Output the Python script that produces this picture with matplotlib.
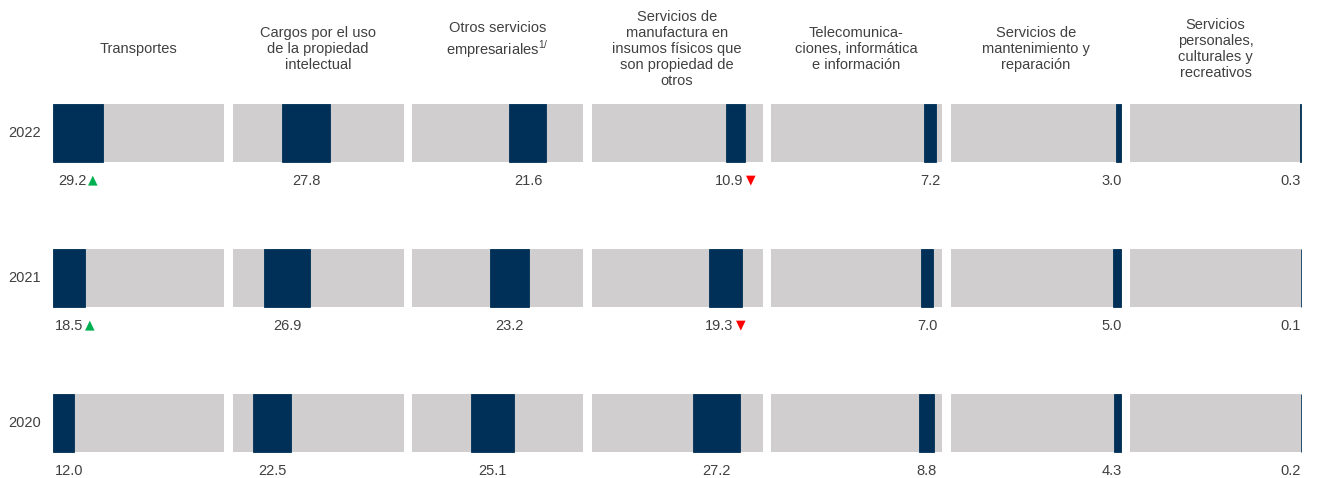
import matplotlib
matplotlib.use("Agg")
import matplotlib.pyplot as plt

plt.rcParams['font.family'] = ['Liberation Sans', 'DejaVu Sans']
plt.rcParams['mathtext.fontset'] = 'custom'
plt.rcParams['mathtext.rm'] = 'Liberation Sans'

# datos
categorias = [
    "Transportes",
    "Cargos por el uso\nde la propiedad\nintelectual",
    "Otros servicios\nempresariales$^{1/}$\n",
    "Servicios de\nmanufactura en\ninsumos físicos que\nson propiedad de\notros",
    "Telecomunica-\nciones, informática\ne información",
    "Servicios de\nmantenimiento y\nreparación",
    "Servicios\npersonales,\nculturales y\nrecreativos",
]
anios = ["2022", "2021", "2020"]
v2022 = [29.2, 27.8, 21.6, 10.9, 7.2, 3.0, 0.3]
v2021 = [18.5, 26.9, 23.2, 19.3, 7.0, 5.0, 0.1]
v2020 = [12.0, 22.5, 25.1, 27.2, 8.8, 4.3, 0.2]
# marcas de cambio de posicion
m2022 = ["sube", None, None, "baja", None, None, None]
m2021 = ["sube", None, None, "baja", None, None, None]
m2020 = [None] * 7

series = [v2022, v2021, v2020]
marcas = [m2022, m2021, m2020]

AZUL = "#003057"
GRIS = "#D0CECE"
TEXTO = "#404040"
simbolos = {"sube": ("\u25B2", "#00B050"), "baja": ("\u25BC", "#FF0000")}

W, H = 1320, 478
fig = plt.figure(figsize=(W / 100, H / 100), dpi=100)
renderer = fig.canvas.get_renderer()


def fx(px):
    return px / W


def fy(py):
    return 1 - py / H


x0, paso, ancho = 53, 179.5, 171
tops = [104, 249, 394]
alto = 58
fs = 10.5

# encabezados
for j, cat in enumerate(categorias):
    fig.text(fx(x0 + j * paso + ancho / 2), fy(49), cat, ha='center', va='center',
             multialignment='center', fontsize=fs, color=TEXTO, linespacing=1.2)

for i, (anio, valores, flechas) in enumerate(zip(anios, series, marcas)):
    fig.text(fx(41), fy(tops[i] + alto / 2), anio, ha='right', va='center',
             fontsize=fs, color=TEXTO)
    inicio = 0
    for j, v in enumerate(valores):
        izq_celda = x0 + j * paso
        ax = fig.add_axes([fx(izq_celda), fy(tops[i] + alto), ancho / W, alto / H])
        ax.barh(0, 100, height=1, color=GRIS)
        fin = min(inicio + v, 100)
        ax.barh(0, fin - inicio, left=inicio, height=1, color=AZUL, edgecolor=AZUL,
                linewidth=0.6, clip_on=False)
        ax.set_xlim(0, 100)
        ax.set_ylim(-0.5, 0.5)
        ax.axis('off')

        # etiqueta centrada en el segmento, sin salir de la celda
        y_lab = fy(tops[i] + alto + 19)
        t = fig.text(0, y_lab, f"{v:.1f}", ha='left', va='center', fontsize=fs, color=TEXTO)
        w_tot = t.get_window_extent(renderer).width
        a = None
        if flechas[j]:
            sim, col = simbolos[flechas[j]]
            a = fig.text(0, y_lab + 0.003, sim, ha='left', va='center', fontsize=9,
                         color=col, family='DejaVu Sans')
            w_num = w_tot
            w_tot += 2 + a.get_window_extent(renderer).width
        centro = izq_celda + (inicio + v / 2) / 100 * ancho
        izq = centro - w_tot / 2
        izq = max(izq_celda + 2, min(izq, izq_celda + ancho - w_tot))
        t.set_x(fx(izq))
        if a is not None:
            a.set_x(fx(izq + w_num + 2))
        inicio += v

fig.savefig("out.png", dpi=100)
